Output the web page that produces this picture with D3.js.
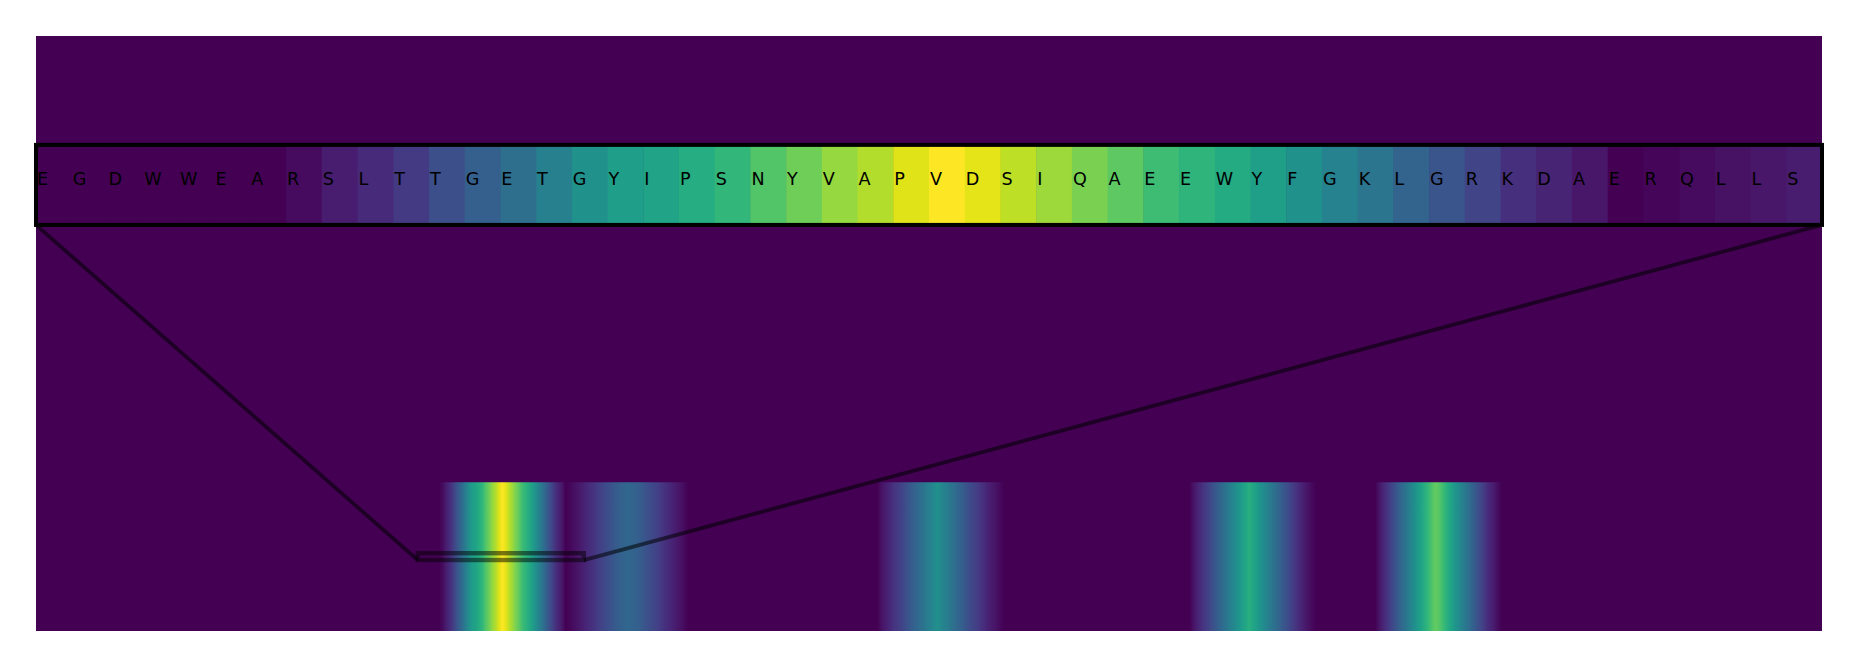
<!DOCTYPE html>
<html>
<head>
<meta charset="utf-8">
<script src="https://cdn.jsdelivr.net/npm/d3@7"></script>
<style>
  html, body { margin: 0; padding: 0; background: #ffffff; }
  svg { display: block; }
</style>
</head>
<body>
<svg id="chart" width="1857" height="667"></svg>
<script>
// ---------------- DATA ----------------
const totalResidues = 538;            // length of the full sequence (main band)
const windowStart = 115;              // first residue shown in the zoomed inset
const windowLetters = ["E","G","D","W","W","E","A","R","S","L",
                       "T","T","G","E","T","G","Y","I","P","S",
                       "N","Y","V","A","P","V","D","S","I","Q",
                       "A","E","E","W","Y","F","G","K","L","G",
                       "R","K","D","A","E","R","Q","L","L","S"];
// start residue of each peak and its per-residue values
const peakStarts = [121, 159, 253, 347, 403];
const peak1Values = [0, 0.03, 0.08, 0.12, 0.17, 0.24, 0.30, 0.36, 0.43, 0.50,
                     0.555, 0.58, 0.62, 0.66, 0.73, 0.78, 0.84, 0.885, 0.95, 1.0,
                     0.96, 0.90, 0.855, 0.80, 0.75, 0.69, 0.65, 0.61, 0.56, 0.50,
                     0.44, 0.39, 0.32, 0.26, 0.20, 0.14, 0.10, 0.06, 0];
const peak2Values = [0, 0.015, 0.03, 0.045, 0.06, 0.08, 0.10, 0.12, 0.14, 0.16,
                     0.18, 0.20, 0.22, 0.24, 0.26, 0.28, 0.30, 0.31, 0.32, 0.33,
                     0.32, 0.31, 0.30, 0.28, 0.26, 0.24, 0.22, 0.20, 0.18, 0.16,
                     0.14, 0.12, 0.10, 0.08, 0.06, 0.04, 0.02, 0];
const peak3Values = [0, 0.04, 0.07, 0.09, 0.12, 0.15, 0.17, 0.19, 0.22, 0.25,
                     0.28, 0.31, 0.33, 0.36, 0.39, 0.42, 0.44, 0.47, 0.50,
                     0.47, 0.44, 0.42, 0.39, 0.36, 0.33, 0.31, 0.28, 0.25, 0.22,
                     0.20, 0.18, 0.15, 0.13, 0.10, 0.08, 0.06, 0.04, 0.02, 0];
const peak4Values = [0, 0.045, 0.08, 0.11, 0.145, 0.175, 0.21, 0.245, 0.28, 0.315,
                     0.35, 0.385, 0.42, 0.455, 0.49, 0.525, 0.56, 0.595, 0.63,
                     0.595, 0.56, 0.525, 0.49, 0.455, 0.42, 0.385, 0.35, 0.315, 0.28,
                     0.25, 0.215, 0.18, 0.15, 0.12, 0.09, 0.065, 0.04, 0.02, 0];
const peak5Values = [0, 0.05, 0.09, 0.13, 0.17, 0.21, 0.25, 0.295, 0.34, 0.38,
                     0.42, 0.465, 0.505, 0.55, 0.59, 0.635, 0.675, 0.72, 0.76,
                     0.74, 0.70, 0.655, 0.61, 0.57, 0.525, 0.485, 0.44, 0.40, 0.36,
                     0.32, 0.28, 0.24, 0.20, 0.16, 0.12, 0.09, 0.06, 0.03, 0];
const peakValues = [peak1Values, peak2Values, peak3Values, peak4Values, peak5Values];

// per-residue table built from the peaks (zero elsewhere)
const residueValues = new Array(totalResidues).fill(0);
peakStarts.forEach((s, k) => {
  peakValues[k].forEach((v, j) => {
    residueValues[s + j] = Math.max(residueValues[s + j], v);
  });
});

// ---------------- LAYOUT ----------------
const plot = { left: 36, right: 1822, top: 36, bottom: 631 };
const insetFrac = { bottom: 0.6825, height: 0.1345 };   // axes-fraction placement of the inset
const zoomHalfHeight = 0.023;

const svg = d3.select("#chart");
const color = d3.scaleSequential(d3.interpolateViridis).domain([0, 1]);

const mainX = d3.scaleLinear().domain([0, totalResidues]).range([plot.left, plot.right]);
const mainY = d3.scaleLinear().domain([-0.5, 3.5]).range([plot.bottom, plot.top]);

const plotH = plot.bottom - plot.top;
const insetBottomPx = plot.bottom - insetFrac.bottom * plotH;
const insetTopPx = insetBottomPx - insetFrac.height * plotH;
const insetX = d3.scaleLinear().domain([windowStart, windowStart + windowLetters.length]).range([plot.left, plot.right]);
const insetY = d3.scaleLinear().domain([-0.5, 0.5]).range([insetBottomPx, insetTopPx]);

// ---------------- MAIN AXES ----------------
const defs = svg.append("defs");
defs.append("clipPath").attr("id", "mainClip")
  .append("rect").attr("x", plot.left).attr("y", plot.top)
  .attr("width", plot.right - plot.left).attr("height", plotH);

svg.append("rect")
  .attr("x", plot.left).attr("y", plot.top)
  .attr("width", plot.right - plot.left).attr("height", plotH)
  .attr("fill", color(0));

const grad = defs.append("linearGradient")
  .attr("id", "bandGrad")
  .attr("gradientUnits", "userSpaceOnUse")
  .attr("x1", mainX(0)).attr("x2", mainX(totalResidues))
  .attr("y1", 0).attr("y2", 0);
const span = mainX(totalResidues) - mainX(0);
grad.selectAll("stop")
  .data(residueValues)
  .join("stop")
  .attr("offset", (d, i) => (mainX(i + 0.5) - mainX(0)) / span)
  .attr("stop-color", d => color(d));

svg.append("rect")
  .attr("x", mainX(0)).attr("y", mainY(0.5))
  .attr("width", mainX(totalResidues) - mainX(0))
  .attr("height", mainY(-0.5) - mainY(0.5))
  .attr("fill", "url(#bandGrad)")
  .attr("clip-path", "url(#mainClip)");

// ---------------- INSET ----------------
defs.append("clipPath").attr("id", "insetClip")
  .append("rect").attr("x", plot.left).attr("y", insetTopPx)
  .attr("width", plot.right - plot.left).attr("height", insetBottomPx - insetTopPx);

const inset = svg.append("g").attr("clip-path", "url(#insetClip)");
const windowData = windowLetters.map((ch, i) => ({ ch, res: windowStart + i, v: residueValues[windowStart + i] }));

inset.selectAll("rect.cell")
  .data(windowData)
  .join("rect")
  .attr("class", "cell")
  .attr("x", d => insetX(d.res))
  .attr("y", insetY(0.5))
  .attr("width", d => insetX(d.res + 1) - insetX(d.res) + 0.5)
  .attr("height", insetY(-0.5) - insetY(0.5))
  .attr("fill", d => color(d.v));

inset.selectAll("text.res")
  .data(windowData)
  .join("text")
  .attr("class", "res")
  .attr("x", d => insetX(d.res))
  .attr("dx", 1)
  .attr("y", insetY(0))
  .attr("text-anchor", "start")
  .attr("font-family", "DejaVu Sans, sans-serif")
  .attr("font-size", "17.6px")
  .attr("fill", "#000")
  .text(d => d.ch);

svg.append("rect")
  .attr("x", insetX(windowStart)).attr("y", insetY(0.5))
  .attr("width", insetX(windowStart + windowLetters.length) - insetX(windowStart))
  .attr("height", insetY(-0.5) - insetY(0.5))
  .attr("fill", "none").attr("stroke", "#000").attr("stroke-width", 4);

// ---------------- ZOOM MARK ----------------
const zx0 = mainX(windowStart), zx1 = mainX(windowStart + windowLetters.length);
const zyTop = mainY(zoomHalfHeight), zyBot = mainY(-zoomHalfHeight);

svg.append("rect")
  .attr("x", zx0).attr("y", zyTop)
  .attr("width", zx1 - zx0).attr("height", zyBot - zyTop)
  .attr("fill", "none").attr("stroke", "#000")
  .attr("stroke-opacity", 0.5).attr("stroke-width", 4.4);

const connectors = [
  [[insetX(windowStart), insetY(-0.5)], [zx0, zyBot]],
  [[insetX(windowStart + windowLetters.length), insetY(-0.5)], [zx1, zyBot]]
];
svg.selectAll("line.conn")
  .data(connectors)
  .join("line")
  .attr("class", "conn")
  .attr("x1", d => d[0][0]).attr("y1", d => d[0][1])
  .attr("x2", d => d[1][0]).attr("y2", d => d[1][1])
  .attr("stroke", "#000").attr("stroke-opacity", 0.55)
  .attr("stroke-width", 3.8).attr("stroke-linecap", "butt");
</script>
</body>
</html>
